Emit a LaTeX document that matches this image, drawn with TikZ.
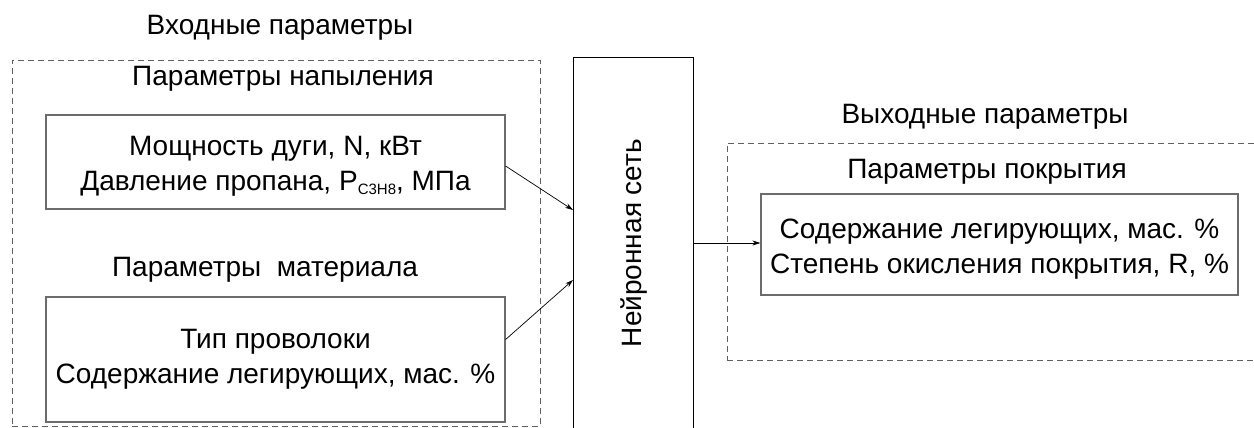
\documentclass[tikz,border=0pt]{standalone}
\usepackage{fontspec}
\setmainfont{Liberation Sans}
\usepackage{amsmath}
\usetikzlibrary{arrows.meta}

\begin{document}
\begin{tikzpicture}[x=1pt,y=-1pt,
    every node/.style={font=\fontsize{28}{35}\selectfont, inner sep=0pt},
    parbox/.style={draw=gray!85!black, line width=1.2pt, align=center},
    groupbox/.style={draw=gray!75!black, dash pattern=on 6pt off 4pt, line width=0.8pt},
    link/.style={-{Stealth[length=8pt,width=5pt]}, line width=0.7pt}]
\useasboundingbox (0,0) rectangle (1254,428);
\begin{scope}
    \clip (0,0) rectangle (1254,428);

    % input side
    \node (ttlin) at (280,28) {Входные параметры};
    \node (grpin) at (276,243) [groupbox, minimum width=528pt, minimum height=366pt] {};
    \node (subsp) at (283,79) {Параметры напыления};
    \node (spray) at (275.5,162) [parbox, minimum width=459pt, minimum height=94pt]
        {\rule{0pt}{28pt}Мощность дуги, N, кВт\\Давление пропана, P\raisebox{-4pt}{\fontsize{15}{15}\selectfont С3Н8}, МПа};
    \node (submt) at (265,270) {Параметры \ материала};
    \node (matl) at (275.5,359.5) [parbox, minimum width=459pt, minimum height=125pt]
        {Тип проволоки\\Содержание легирующих, мас. \%};

    % network
    \node (net) at (633,250) [draw=black, line width=0.9pt, minimum width=120pt, minimum height=386pt] {};
    \node (netlbl) at (634,243) [rotate=90] {Нейронная сеть};

    % output side
    \node (ttlout) at (985,117) {Выходные параметры};
    \node (grpout) at (994.5,251.5) [groupbox, minimum width=535pt, minimum height=217pt] {};
    \node (subcv) at (987,172) {Параметры покрытия};
    \node (coat) at (999.5,244.5) [parbox, minimum width=477pt, minimum height=101pt]
        {\rule{0pt}{28pt}Содержание легирующих, мас. \%\\Степень окисления покрытия, R, \%};

    % connectors
    \coordinate (in1) at (573,210);
    \coordinate (in2) at (573,280);
    \coordinate (out) at (693,243);
    \draw[link] ([yshift=-4pt]spray.east) -- (in1);
    \draw[link] ([yshift=20pt]matl.east) -- (in2);
    \draw[link] (out) -- (out -| coat.west);

\end{scope}
\end{tikzpicture}
\end{document}
